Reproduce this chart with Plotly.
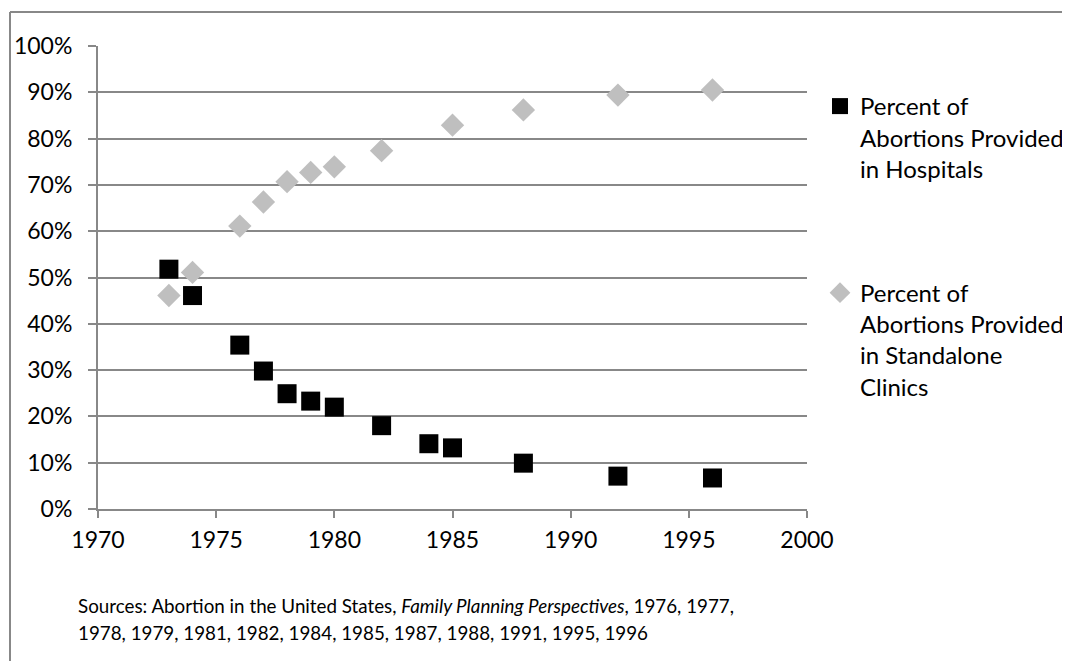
import plotly.graph_objects as go

years_hosp = [1973, 1974, 1976, 1977, 1978, 1979, 1980, 1982, 1984, 1985, 1988, 1992, 1996]
pct_hosp = [0.518, 0.461, 0.354, 0.298, 0.249, 0.233, 0.220, 0.180, 0.141, 0.132, 0.099, 0.071, 0.067]

years_clinic = [1973, 1974, 1976, 1977, 1978, 1979, 1980, 1982, 1985, 1988, 1992, 1996]
pct_clinic = [0.461, 0.511, 0.611, 0.663, 0.707, 0.727, 0.739, 0.774, 0.829, 0.862, 0.894, 0.905]

name_hosp = "Percent of<br>Abortions Provided<br>in Hospitals"
name_clinic = "Percent of<br>Abortions Provided<br>in Standalone<br>Clinics"
source_line1 = "Sources: Abortion in the United States, <i>Family Planning Perspectives</i>, 1976, 1977,"
source_line2 = "1978, 1979, 1981, 1982, 1984, 1985, 1987, 1988, 1991, 1995, 1996"

FONT = "Lato, Carlito, Calibri, sans-serif"
GRID = "#888888"

OFF = 8  # page body margin
W, H = 1070 - OFF, 661 - OFF
# plot area in screen pixels
PL, PR, PT, PB = 98, 807, 46, 509
pw, ph = PR - PL, PB - PT

def px_x(p):
    return (p - PL) / pw

def px_y(p):
    return (PB - p) / ph

fig = go.Figure()
fig.add_trace(go.Scatter(
    x=years_hosp, y=pct_hosp, mode="markers", name=name_hosp, legendgroup="h",
    marker=dict(symbol="square", size=19, color="#000000", line=dict(width=0)),
))
fig.add_trace(go.Scatter(
    x=years_clinic, y=pct_clinic, mode="markers", name=name_clinic, legendgroup="c",
    marker=dict(symbol="diamond", size=18, color="#BFBFBF", line=dict(width=0)),
))

fig.update_layout(
    width=W, height=H,
    margin=dict(l=PL - OFF, r=W + OFF - PR, t=PT - OFF, b=H + OFF - PB, autoexpand=False),
    paper_bgcolor="white", plot_bgcolor="white",
    font=dict(family=FONT, size=23, color="#000000"),
    showlegend=True,
    legend=dict(
        x=px_x(820), xanchor="left", y=px_y(84), yanchor="top",
        valign="top", tracegroupgap=90, font=dict(size=24),
        bgcolor="rgba(0,0,0,0)", borderwidth=0,
    ),
    xaxis=dict(
        range=[1970, 2000], dtick=5, tick0=1970, showgrid=False, zeroline=False,
        showline=True, linecolor=GRID, linewidth=2,
        ticks="outside", ticklen=7, tickwidth=2, tickcolor=GRID,
        ticklabelstandoff=2, tickfont=dict(size=23),
    ),
    yaxis=dict(
        range=[0, 1], dtick=0.1, tick0=0, tickformat=".0%",
        showgrid=True, gridcolor=GRID, gridwidth=2, zeroline=False,
        showline=True, linecolor=GRID, linewidth=2,
        ticks="outside", ticklen=8, tickwidth=2, tickcolor=GRID,
        ticklabelstandoff=11, tickfont=dict(size=23),
    ),
    annotations=[
        dict(text=source_line1, xref="paper", yref="paper",
             x=px_x(76), y=px_y(605), xanchor="left", yanchor="middle", align="left",
             showarrow=False, font=dict(size=18.8, color="#000000")),
        dict(text=source_line2, xref="paper", yref="paper",
             x=px_x(76), y=px_y(632), xanchor="left", yanchor="middle", align="left",
             showarrow=False, font=dict(size=18.8, color="#000000")),
    ],
    shapes=[
        dict(type="line", xref="paper", yref="paper", x0=px_x(10), x1=px_x(10),
             y0=px_y(12), y1=px_y(661), line=dict(color=GRID, width=2)),
        dict(type="line", xref="paper", yref="paper", x0=px_x(10), x1=px_x(1070),
             y0=px_y(12), y1=px_y(12), line=dict(color=GRID, width=2)),
    ],
)

fig.write_html("out.html", config={"displayModeBar": False})
